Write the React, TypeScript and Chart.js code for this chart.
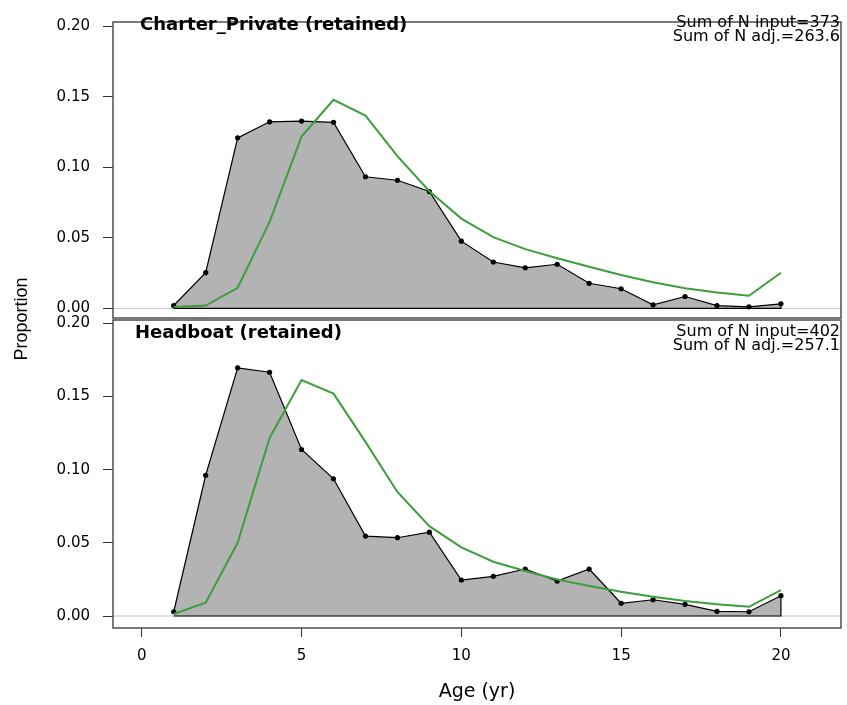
import React, { useEffect, useRef } from "react";
import { Chart, registerables } from "chart.js";

Chart.register(...registerables);

// ---- Data ----
const AGES = [1, 2, 3, 4, 5, 6, 7, 8, 9, 10, 11, 12, 13, 14, 15, 16, 17, 18, 19, 20];

const CP_OBS = [0.002, 0.0253, 0.121, 0.1324, 0.1329, 0.132, 0.0934, 0.0909, 0.0829, 0.0477,
  0.0329, 0.0288, 0.0313, 0.0178, 0.0139, 0.0025, 0.0084, 0.002, 0.0011, 0.0032];
const CP_EXP = [0.0009, 0.002, 0.0146, 0.0614, 0.1219, 0.148, 0.1368, 0.108, 0.0831, 0.0637,
  0.0505, 0.042, 0.0356, 0.0295, 0.0237, 0.0185, 0.0142, 0.0112, 0.0089, 0.0253];

const HB_OBS = [0.0029, 0.0962, 0.1696, 0.1666, 0.1138, 0.0938, 0.0546, 0.0535, 0.0573, 0.0246,
  0.0271, 0.0321, 0.0239, 0.0321, 0.0087, 0.0111, 0.008, 0.0032, 0.0029, 0.0139];
const HB_EXP = [0.0014, 0.0091, 0.05, 0.1217, 0.1613, 0.152, 0.119, 0.0848, 0.0614, 0.0469,
  0.0371, 0.0307, 0.025, 0.0205, 0.0166, 0.0132, 0.0102, 0.008, 0.0063, 0.0177];

const Y_TICKS = [0, 0.05, 0.1, 0.15, 0.2];
const X_TICKS = [0, 5, 10, 15, 20];
const PANEL_TITLES = ["Charter_Private (retained)", "Headboat (retained)"];
const N_INPUT = [373, 402];
const N_ADJ = [263.6, 257.1];
const X_LABEL = "Age (yr)";
const Y_LABEL = "Proportion";

// ---- Styling ----
const SANS = "'DejaVu Sans', 'Liberation Sans', Arial, sans-serif";
const FRAME = "#4d4d4d";
const GREEN = "#3c9e3c";
const FILL = "#b3b3b3";

const X_MIN = -0.9;
const X_MAX = 21.88;

const decorPlugin = {
  id: "decor",
  beforeDatasetsDraw(chart: any) {
    const { ctx, chartArea: a, scales } = chart;
    const y0 = scales.y.getPixelForValue(0);
    ctx.save();
    ctx.strokeStyle = "#c4c4c4";
    ctx.lineWidth = 1;
    ctx.beginPath();
    ctx.moveTo(a.left, y0);
    ctx.lineTo(a.right, y0);
    ctx.stroke();
    ctx.restore();
  },
  afterDraw(chart: any, _args: any, opts: any) {
    const { ctx, chartArea: a } = chart;
    ctx.save();
    ctx.strokeStyle = FRAME;
    ctx.lineWidth = 1.5;
    ctx.strokeRect(a.left, a.top, a.right - a.left, a.bottom - a.top);

    ctx.fillStyle = "#000";
    ctx.textBaseline = "alphabetic";
    ctx.textAlign = "left";
    ctx.font = `bold 18px ${SANS}`;
    ctx.fillText(opts.title, opts.titleX, opts.titleY);

    ctx.textAlign = "right";
    ctx.font = `16px ${SANS}`;
    ctx.fillText(`Sum of N input=${opts.nInput}`, a.right - 1, opts.sumY);
    ctx.fillText(`Sum of N adj.=${opts.nAdj}`, a.right - 1, opts.sumY + 14.5);

    if (opts.ylabel) {
      ctx.translate(22, 319);
      ctx.rotate(-Math.PI / 2);
      ctx.textAlign = "center";
      ctx.textBaseline = "middle";
      ctx.font = `18px 'Liberation Sans', Arial, sans-serif`;
      ctx.fillText(opts.ylabel, 0, 0);
    }
    ctx.restore();
  },
};

function makeConfig(idx: number): any {
  const obs = idx === 0 ? CP_OBS : HB_OBS;
  const exp = idx === 0 ? CP_EXP : HB_EXP;
  const isBottom = idx === 1;
  const last = AGES.length - 1;
  const yMin = isBottom ? -0.0082 : -0.00684;
  const yMax = isBottom ? 0.2023 : 0.2032;

  return {
    type: "line",
    data: {
      datasets: [
        {
          label: "expected",
          data: AGES.map((a, i) => ({ x: a, y: exp[i] })),
          borderColor: GREEN,
          borderWidth: 2,
          pointRadius: 0,
          fill: false,
          tension: 0,
          order: 0,
        },
        {
          label: "closure",
          data: [
            { x: AGES[last], y: obs[last] },
            { x: AGES[last], y: 0 },
            { x: AGES[0], y: 0 },
          ],
          borderColor: "#000",
          borderWidth: 1.2,
          pointRadius: 0,
          fill: false,
          tension: 0,
          order: 1,
        },
        {
          label: "observed",
          data: AGES.map((a, i) => ({ x: a, y: obs[i] })),
          borderColor: "#000",
          borderWidth: 1.2,
          backgroundColor: FILL,
          pointRadius: 2.6,
          pointBackgroundColor: "#000",
          pointBorderWidth: 0,
          fill: "origin",
          tension: 0,
          order: 2,
        },
      ],
    },
    options: {
      responsive: false,
      animation: false,
      events: [],
      layout: {
        padding: isBottom
          ? { top: 320, right: 6, bottom: 0, left: 0 }
          : { top: 11, right: 6, bottom: 387, left: 0 },
      },
      plugins: {
        legend: { display: false },
        tooltip: { enabled: false },
        decor: {
          title: PANEL_TITLES[idx],
          titleX: isBottom ? 135 : 140,
          titleY: isBottom ? 338 : 30,
          nInput: N_INPUT[idx],
          nAdj: N_ADJ[idx],
          sumY: isBottom ? 335.5 : 26.5,
          ylabel: isBottom ? Y_LABEL : null,
        },
      },
      scales: {
        x: {
          type: "linear",
          min: X_MIN,
          max: X_MAX,
          display: isBottom,
          afterBuildTicks: (s: any) => {
            s.ticks = X_TICKS.map((v) => ({ value: v }));
          },
          afterFit: (s: any) => {
            s.height = isBottom ? 77 : 0;
          },
          ticks: {
            color: "#000",
            font: { family: SANS, size: 15 },
            padding: 10,
            maxRotation: 0,
            callback: (v: any) => String(v),
          },
          grid: {
            drawOnChartArea: false,
            drawTicks: true,
            tickLength: 9,
            color: "#333",
            lineWidth: 1,
          },
          border: { display: false },
          title: {
            display: true,
            text: X_LABEL,
            color: "#000",
            font: { family: SANS, size: 19 },
            padding: { top: 0, bottom: 1.6 },
          },
        },
        y: {
          type: "linear",
          min: yMin,
          max: yMax,
          afterBuildTicks: (s: any) => {
            s.ticks = Y_TICKS.map((v) => ({ value: v }));
          },
          afterFit: (s: any) => {
            s.width = 113;
          },
          ticks: {
            color: "#000",
            font: { family: SANS, size: 15 },
            padding: 13,
            callback: (v: any) => Number(v).toFixed(2),
          },
          grid: {
            drawOnChartArea: false,
            drawTicks: true,
            tickLength: 10,
            color: "#333",
            lineWidth: 1,
          },
          border: { display: false },
        },
      },
    },
    plugins: [decorPlugin],
  };
}

export default function App() {
  const topRef = useRef<HTMLCanvasElement>(null);
  const botRef = useRef<HTMLCanvasElement>(null);

  useEffect(() => {
    const c1 = new Chart(topRef.current as HTMLCanvasElement, makeConfig(0));
    const c2 = new Chart(botRef.current as HTMLCanvasElement, makeConfig(1));
    return () => {
      c1.destroy();
      c2.destroy();
    };
  }, []);

  const canvasStyle: React.CSSProperties = {
    position: "absolute",
    left: 0,
    top: 0,
    width: 847,
    height: 705,
  };

  return (
    <div
      style={{
        position: "fixed",
        left: 0,
        top: 0,
        width: 847,
        height: 705,
        background: "#fff",
      }}
    >
      <canvas ref={topRef} width={847} height={705} style={canvasStyle} />
      <canvas ref={botRef} width={847} height={705} style={canvasStyle} />
    </div>
  );
}
